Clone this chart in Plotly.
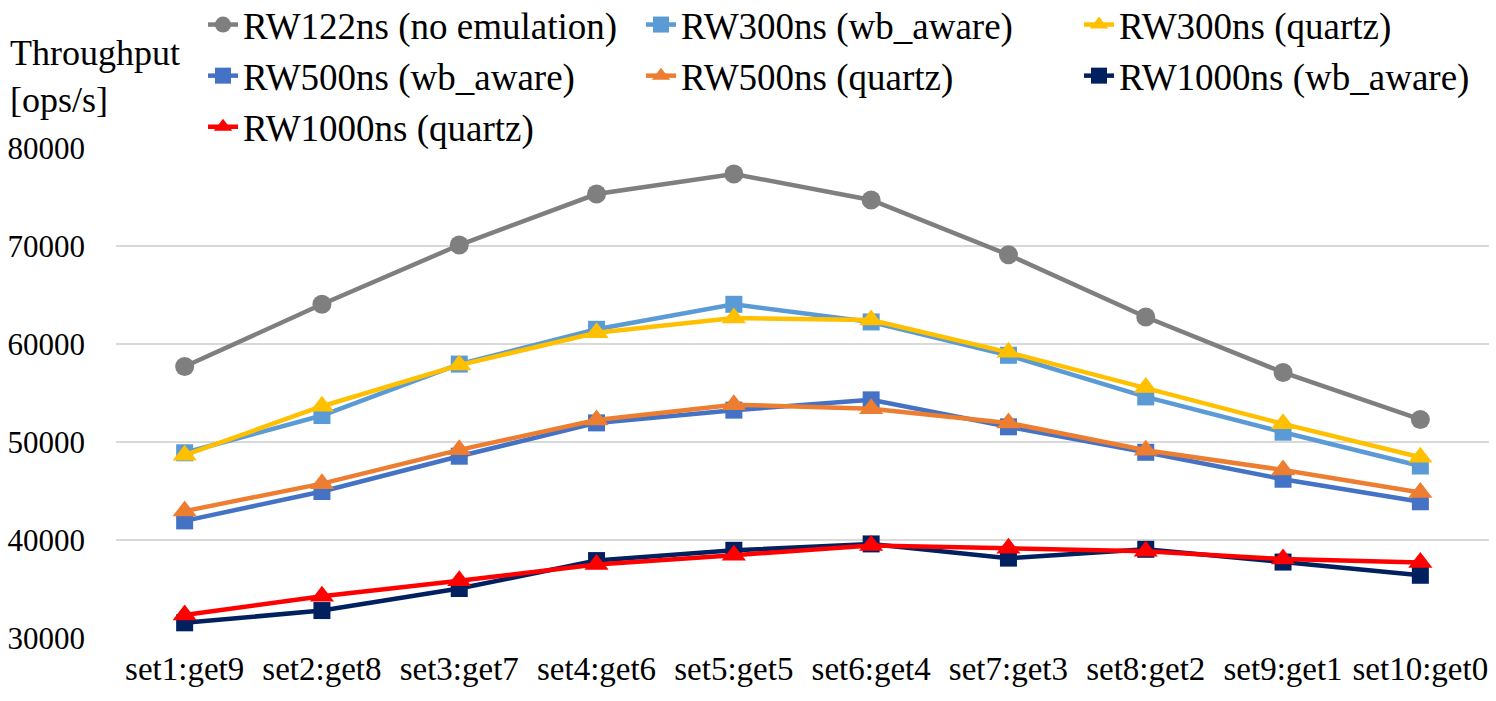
import plotly.graph_objects as go

categories = ["set1:get9", "set2:get8", "set3:get7", "set4:get6", "set5:get5",
              "set6:get4", "set7:get3", "set8:get2", "set9:get1", "set10:get0"]

rw122 = [57700, 64050, 70100, 75300, 77350, 74700, 69100, 62750, 57100, 52300]
rw300_wb = [48900, 52700, 57950, 61500, 64050, 62250, 58850, 54600, 51000, 47550]
rw300_qz = [48650, 53650, 57850, 61150, 62650, 62450, 59150, 55550, 51850, 48450]
rw500_wb = [41950, 44950, 48550, 51950, 53250, 54300, 51550, 48950, 46200, 43900]
rw500_qz = [42950, 45750, 49200, 52250, 53800, 53400, 51950, 49150, 47150, 44850]
rw1000_wb = [31550, 32800, 35050, 37900, 38950, 39600, 38150, 39050, 37750, 36400]
rw1000_qz = [32350, 34250, 35850, 37500, 38450, 39450, 39150, 38850, 38050, 37700]

series = [
    ("RW122ns (no emulation)", rw122, "#7f7f7f", "circle"),
    ("RW300ns (wb_aware)", rw300_wb, "#5b9bd5", "square"),
    ("RW300ns (quartz)", rw300_qz, "#ffc000", "triangle-up"),
    ("RW500ns (wb_aware)", rw500_wb, "#4472c4", "square"),
    ("RW500ns (quartz)", rw500_qz, "#ed7d31", "triangle-up"),
    ("RW1000ns (wb_aware)", rw1000_wb, "#002060", "square"),
    ("RW1000ns (quartz)", rw1000_qz, "#ff0000", "triangle-up"),
]

FONT = "'Liberation Serif', 'Times New Roman', Times, serif"
SIZES = {"circle": 19, "square": 17, "triangle-up": 21}

fig = go.Figure()
for name, vals, color, sym in series:
    fig.add_trace(go.Scatter(
        x=categories, y=vals, name=name, mode="lines+markers",
        line=dict(color=color, width=4.5),
        marker=dict(color=color, symbol=sym, size=SIZES[sym], line=dict(width=0)),
    ))

fig.update_layout(
    width=1496, height=701,
    margin=dict(l=116, r=7, t=148, b=63, autoexpand=False),
    paper_bgcolor="white", plot_bgcolor="white",
    font=dict(family=FONT, size=31, color="black"),
    showlegend=True,
    legend=dict(
        orientation="h", x=203 / 1496, xanchor="left",
        y=(638 + 6) / 490, yanchor="top",
        xref="container", yref="paper",
        font=dict(family=FONT, size=37, color="black"),
        entrywidth=393, entrywidthmode="pixels",
        bgcolor="rgba(0,0,0,0)", itemsizing="trace",
        tracegroupgap=0,
    ),
    xaxis=dict(
        type="category", range=[-0.5, 9.5], showgrid=False, showline=False,
        zeroline=False, ticks="", ticklabelstandoff=8,
        tickfont=dict(family=FONT, size=33, color="black"),
    ),
    yaxis=dict(
        range=[30000, 80000], dtick=10000, showgrid=True,
        gridcolor="#d9d9d9", gridwidth=1.5, zeroline=False, showline=False,
        ticks="", tickfont=dict(family=FONT, size=31, color="black"),
        tickformat="d", ticklabelstandoff=30,
    ),
    annotations=[dict(
        text="Throughput<br>[ops/s]", xref="paper", yref="paper",
        x=-0.079, y=1.145, xanchor="left", yanchor="middle", align="left",
        showarrow=False, font=dict(family=FONT, size=36, color="black"),
    )],
)

fig.write_html("out.html")
